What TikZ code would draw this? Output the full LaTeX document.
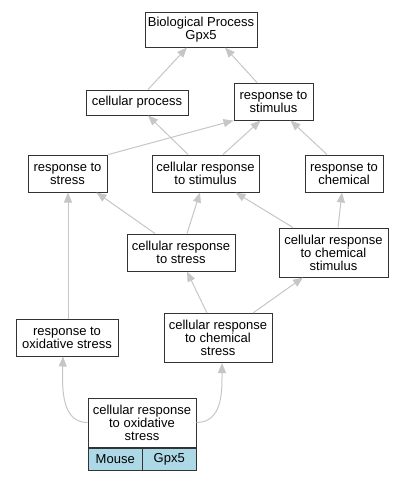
\documentclass[tikz,border=0pt]{standalone}
\usepackage{fontspec}
\setmainfont{Liberation Sans}
\usetikzlibrary{arrows.meta}
\begin{document}
\begin{tikzpicture}[x=1pt,y=-1pt,
  box/.style={draw=black!80, line width=1pt, fill=white, inner sep=0pt, align=center,
    font=\fontsize{13}{13}\selectfont},
  cell/.style={box, fill=cyan!30!blue!15!white, fill=lightblue},
  edge/.style={draw=gray!45, line width=1pt, -{Triangle[length=10pt,width=8pt]}}]
\definecolor{lightblue}{HTML}{ADD8E6}
\useasboundingbox (0,0) rectangle (404,480);
\node[box, minimum width=112pt, minimum height=35pt] (bp) at (201,29.5) {Biological Process\\Gpx5};
\node[box, minimum width=102pt, minimum height=25pt] (cp) at (137,102.5) {cellular process};
\node[box, minimum width=79pt, minimum height=37pt] (rstim) at (273.5,101.5) {response to\\stimulus};
\node[box, minimum width=79pt, minimum height=37pt] (rstress) at (67.5,173.5) {response to\\stress};
\node[box, minimum width=107pt, minimum height=37pt] (crstim) at (205.5,173.5) {cellular response\\to stimulus};
\node[box, minimum width=78pt, minimum height=37pt] (rchem) at (344,173.5) {response to\\chemical};
\node[box, minimum width=108pt, minimum height=37pt] (crstress) at (181,252.5) {cellular response\\to stress};
\node[box, minimum width=109pt, minimum height=49pt] (crchemstim) at (333.5,252.5) {cellular response\\to chemical\\stimulus};
\node[box, minimum width=102pt, minimum height=37pt] (roxs) at (67,337.5) {response to\\oxidative stress};
\node[box, minimum width=108pt, minimum height=49pt] (crchemstress) at (218,338) {cellular response\\to chemical\\stress};
\node[box, minimum width=108pt, minimum height=49pt] (ox) at (142,422.5) {cellular response\\to oxidative\\stress};
\node[cell, minimum width=54.5pt, minimum height=22pt, anchor=north west] (mouse) at (ox.south west) {Mouse};
\node[cell, minimum width=53.5pt, minimum height=22pt, anchor=north east] (gpx) at (ox.south east) {Gpx5};

\draw[edge] ([xshift=11pt]cp.north) -- ([xshift=-14pt]bp.south);
\draw[edge] ([xshift=-16.5pt]rstim.north) -- ([xshift=24pt]bp.south);
\draw[edge] ([xshift=1pt]rstress.north east) -- (rstim.south west);
\draw[edge] ([xshift=-17.5pt]crstim.north) -- ([xshift=11pt]cp.south);
\draw[edge] ([xshift=17.5pt]crstim.north) -- ([xshift=-13pt]rstim.south);
\draw[edge] ([xshift=-17pt]rchem.north) -- ([xshift=17pt]rstim.south);
\draw[edge] ([xshift=-26pt]crstress.north) -- ([xshift=29pt]rstress.south);
\draw[edge] ([xshift=6pt]crstress.north) -- ([xshift=-5.5pt]crstim.south);
\draw[edge] ([xshift=-40.5pt]crchemstim.north) -- ([xshift=30pt]crstim.south);
\draw[edge] ([xshift=4.5pt]crchemstim.north) -- ([xshift=-2pt]rchem.south);
\draw[edge] ([xshift=1pt]roxs.north) -- ([xshift=0.5pt]rstress.south);
\draw[edge] ([xshift=-11pt]crchemstress.north) -- ([xshift=6pt]crstress.south);
\draw[edge] ([xshift=35pt]crchemstress.north) -- ([xshift=-30.5pt]crchemstim.south);
\draw[edge] (ox.west) .. controls (62,422.5) and (62,390) .. ([xshift=-4pt]roxs.south);
\draw[edge] (ox.east) .. controls (223,422.5) and (222,390) .. ([xshift=4pt]crchemstress.south);
\end{tikzpicture}
\end{document}
